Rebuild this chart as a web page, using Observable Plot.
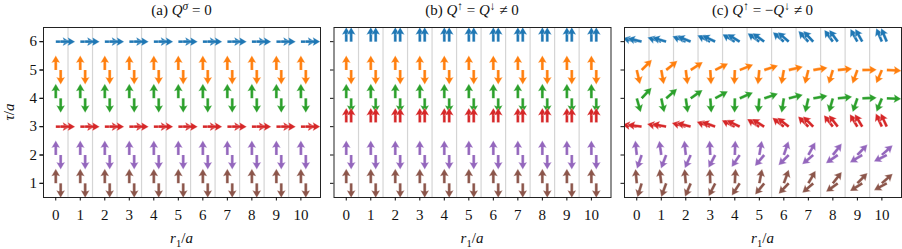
<!DOCTYPE html>
<html><head><meta charset="utf-8">
<script src="https://cdn.jsdelivr.net/npm/d3@7"></script>
<script src="https://cdn.jsdelivr.net/npm/@observablehq/plot@0.6"></script>
<style>body{margin:0;background:#fff;}</style>
</head><body><div id="chart"></div>
<script>
// ---------------- data ----------------
const panels = ["a", "b", "c"];
const rValues = [0, 1, 2, 3, 4, 5, 6, 7, 8, 9, 10];
const xTicks = [0, 1, 2, 3, 4, 5, 6, 7, 8, 9, 10];
const yTicks = [1, 2, 3, 4, 5, 6];
const gridX = [0.5, 1.5, 2.5, 3.5, 4.5, 5.5, 6.5, 7.5, 8.5, 9.5];
const rowColors = ["#1f77b4", "#ff7f0e", "#2ca02c", "#d62728", "#9467bd", "#8c564b"];
const spinOffsets = [0, 0.2];
// tail tau of each row (rows top to bottom), per panel
const tailTauA = [6, 5, 4, 3, 2, 1];
const tailTauB = [6, 5, 4, 3.15, 2, 1];
const tailTauC = [6, 5, 4, 3, 2, 1];
// arrow directions, degrees counter-clockwise from +r, spin 1 / spin 2 per row
const angA1 = [0, 90, 90, 0, 90, 90];
const angA2 = [0, -90, -90, 0, -90, -90];
const angB1 = [90, 90, 90, 90, 90, 90];
const angB2 = [90, -90, -90, 90, -90, -90];
// panel (c): direction at r = 0..10
const c6 = [166, 163, 158, 154, 149, 144, 139, 133, 126, 119, 113];
const c5s1 = [-77, -80, -83, -87, -92, -96, -100, -104, -107, -110, -113];
const c5s2 = [45, 39, 33, 27, 22, 18, 13, 9, 5, 1, -3];
const c4s1 = [-74, -78, -82, -86, -91, -95, -99, -103, -106, -109, -112];
const c4s2 = [47, 41, 35, 29, 24, 19, 14, 10, 6, 2, -2];
const c3 = [172, 169, 165, 160, 154, 148, 142, 135, 128, 121, 115];
const c2s1 = [96, 98, 96, 93, 88, 80, 71, 61, 52, 46, 42];
const c2s2 = [-109, -111, -114, -118, -124, -130, -135, -140, -145, -149, -153];
const c1s1 = [95, 97, 95, 92, 87, 79, 70, 60, 52, 46, 42];
const c1s2 = [-107, -110, -113, -117, -123, -129, -134, -139, -144, -148, -152];

const titleParts = [
  [["(a) ", "n"], ["Q", "i"], ["σ", "supi"], [" = 0", "n"]],
  [["(b) ", "n"], ["Q", "i"], ["↑", "sup"], [" = ", "n"], ["Q", "i"], ["↓", "sup"], [" ≠ 0", "n"]],
  [["(c) ", "n"], ["Q", "i"], ["↑", "sup"], [" = −", "n"], ["Q", "i"], ["↓", "sup"], [" ≠ 0", "n"]]
];

// ---------------- build records ----------------
const cSpin1 = [c6, c5s1, c4s1, c3, c2s1, c1s1];
const cSpin2 = [c6, c5s2, c4s2, c3, c2s2, c1s2];
const records = [];
rowColors.forEach((color, i) => {
  rValues.forEach((r, j) => {
    spinOffsets.forEach((off, s) => {
      records.push({panel: "a", x: r + off, y: tailTauA[i], color, angle: s === 0 ? angA1[i] : angA2[i]});
      records.push({panel: "b", x: r + off, y: tailTauB[i], color, angle: s === 0 ? angB1[i] : angB2[i]});
      records.push({panel: "c", x: r + off, y: tailTauC[i], color, angle: s === 0 ? cSpin1[i][j] : cSpin2[i][j]});
    });
  });
});

// matplotlib-quiver-like filled arrow, drawn pointing up from the tail
const quiverShape = {
  draw(context, l) {
    const w = 1.45, hw = 4.4, hl = 7.5, ha = 6.6;
    context.moveTo(-w, 0);
    context.lineTo(-w, -(l - ha));
    context.lineTo(-hw, -(l - hl));
    context.lineTo(0, -l);
    context.lineTo(hw, -(l - hl));
    context.lineTo(w, -(l - ha));
    context.lineTo(w, 0);
    context.closePath();
  }
};

const FONT = "Liberation Serif";
const chart = Plot.plot({
  width: 902,
  height: 249,
  marginTop: 27,
  marginBottom: 52,
  marginLeft: 43,
  marginRight: 1,
  style: {fontFamily: FONT, background: "white", color: "#111"},
  fx: {domain: panels, paddingInner: 0.0465, paddingOuter: 0, round: false, axis: null, label: null},
  x: {domain: [-0.5, 10.8], label: null},
  y: {domain: [0.5, 6.5], label: null},
  color: {type: "identity"},
  marks: [
    Plot.ruleX(gridX, {stroke: "#d5d5d5", strokeWidth: 1.2}),
    Plot.vector(records, {
      fx: "panel", x: "x", y: "y",
      rotate: d => 90 - d.angle,
      length: 14.5, anchor: "start", shape: quiverShape,
      fill: "color", stroke: "white", strokeWidth: 0.3, clip: true
    }),
    Plot.frame({stroke: "#222", strokeWidth: 1}),
    Plot.axisX({ticks: xTicks, tickFormat: d => String(d), tickSize: 3.5, tickPadding: 8.5, fontSize: 15, label: null, stroke: "#111"}),
    Plot.axisY({ticks: yTicks, tickFormat: d => String(d), tickSize: 3.5, tickPadding: 3, fontSize: 15, label: null, stroke: "#111"}),
    Plot.axisY({ticks: yTicks, tickSize: 3.5, tickFormat: () => "", label: null, facetAnchor: null, stroke: "#111"})
  ]
});
document.getElementById("chart").appendChild(chart);

// ---------------- rich text (titles, axis labels) ----------------
const svg = d3.select(chart);
const fxs = chart.scale("fx");
const ys = chart.scale("y");
const bw = fxs.bandwidth;
function addParts(t, parts) {
  let shift = 0;
  parts.forEach(([s, kind]) => {
    const sp = t.append("tspan").text(s);
    let target = 0;
    if (kind === "i" || kind === "supi") sp.attr("font-style", "italic");
    if (kind === "sup" || kind === "supi") { target = -5; sp.attr("font-size", 11.5); }
    if (kind === "sub") { target = 3.5; sp.attr("font-size", 10.5); }
    if (target !== shift) { sp.attr("dy", target - shift); shift = target; }
  });
}
panels.forEach((p, k) => {
  const cx = fxs.apply(p) + bw / 2;
  const t = svg.append("text").attr("x", cx).attr("y", 15)
    .attr("text-anchor", "middle").attr("font-size", 15).attr("font-family", FONT).attr("fill", "#111");
  addParts(t, titleParts[k]);
  const xl = svg.append("text").attr("x", cx).attr("y", 243)
    .attr("text-anchor", "middle").attr("font-size", 15).attr("font-family", FONT).attr("fill", "#111");
  addParts(xl, [["r", "i"], ["1", "sub"], ["/", "n"], ["a", "i"]]);
});
const yl = svg.append("text")
  .attr("transform", `translate(14,${ys.apply(3.5)}) rotate(-90)`)
  .attr("text-anchor", "middle").attr("font-size", 15).attr("font-family", FONT).attr("fill", "#111");
addParts(yl, [["τ", "i"], ["/", "n"], ["a", "i"]]);
</script>
</body></html>
